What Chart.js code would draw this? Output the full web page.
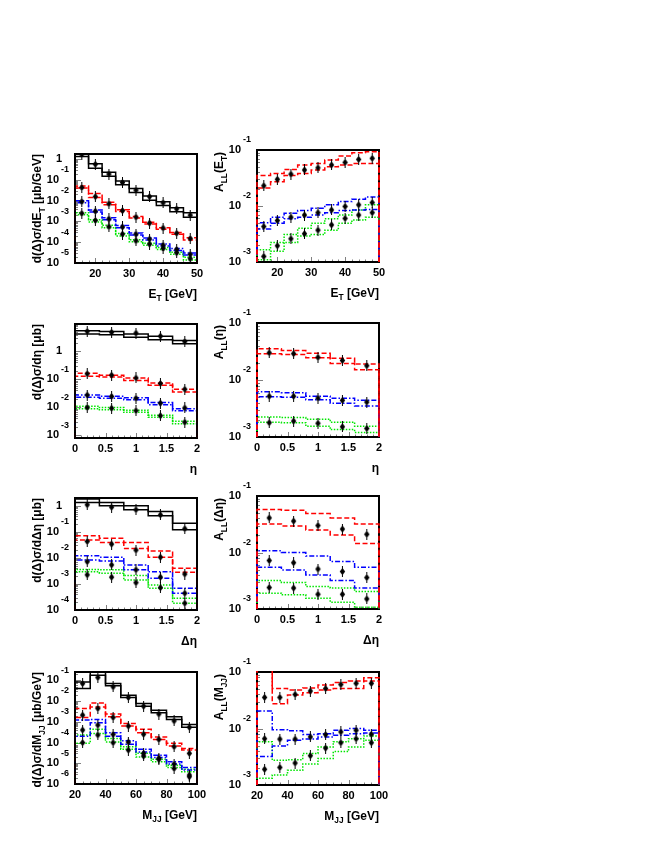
<!DOCTYPE html>
<html>
<head>
<meta charset="utf-8">
<script src="https://cdn.jsdelivr.net/npm/chart.js@4.4.1/dist/chart.umd.min.js"></script>
<style>
  html, body { margin: 0; padding: 0; background: #fff; }
  body { width: 654px; height: 846px; position: relative; overflow: hidden; }
  canvas { position: absolute; }
</style>
</head>
<body>
<script>
// bins
const etEdges = [14, 18, 22, 26, 30, 34, 38, 42, 46, 50];
const etMid = [16, 20, 24, 28, 32, 36, 40, 44, 48];
const etaEdges = [0, 0.4, 0.8, 1.2, 1.6, 2.0];
const etaMid = [0.2, 0.6, 1.0, 1.4, 1.8];
const mjjEdges = [20, 30, 40, 50, 60, 70, 80, 90, 100];
const mjjMid = [25, 35, 45, 55, 65, 75, 85, 95];

// d(D)sigma/dE_T
const xsEtBlackUp = [1.7, 0.59, 0.23, 0.089, 0.038, 0.0166, 0.0089, 0.0045, 0.0026];
const xsEtBlackLo = [1.32, 0.36, 0.148, 0.058, 0.0245, 0.0105, 0.0059, 0.0029, 0.0016];
const xsEtBlackPt = [1.66, 0.56, 0.19, 0.074, 0.032, 0.0155, 0.0079, 0.0040, 0.0020];
const xsEtRedUp = [5.0e-2, 2.2e-2, 8.3e-3, 3.6e-3, 1.74e-3, 9.1e-4, 5.0e-4, 2.95e-4, 1.66e-4];
const xsEtRedLo = [4.0e-2, 1.41e-2, 6.3e-3, 3.0e-3, 1.45e-3, 7.6e-4, 4.2e-4, 2.4e-4, 1.26e-4];
const xsEtRedPt = [4.3e-2, 1.55e-2, 7.1e-3, 3.3e-3, 1.6e-3, 8.3e-4, 4.8e-4, 2.7e-4, 1.5e-4];
const xsEtBlueUp = [1.0e-2, 3.55e-3, 1.51e-3, 6.3e-4, 2.8e-4, 1.58e-4, 8.3e-5, 5.0e-5, 3.0e-5];
const xsEtBlueLo = [7.9e-3, 2.8e-3, 1.2e-3, 5.0e-4, 2.24e-4, 1.26e-4, 6.6e-5, 4.0e-5, 2.4e-5];
const xsEtBluePt = [8.9e-3, 3.1e-3, 1.32e-3, 5.4e-4, 2.45e-4, 1.41e-4, 7.2e-5, 4.5e-5, 2.6e-5];
const xsEtGreenUp = [2.6e-3, 1.2e-3, 6.6e-4, 2.6e-4, 1.32e-4, 8.9e-5, 5.5e-5, 3.3e-5, 1.9e-5];
const xsEtGreenLo = [2.1e-3, 9.5e-4, 5.0e-4, 2.0e-4, 1.05e-4, 7.1e-5, 4.4e-5, 2.6e-5, 1.41e-5];
const xsEtGreenPt = [2.45e-3, 1.12e-3, 5.6e-4, 2.45e-4, 1.17e-4, 8.1e-5, 5.0e-5, 3.1e-5, 1.62e-5];

// A_LL(E_T)
const allEtRedUp = [3.5e-2, 3.8e-2, 4.5e-2, 5.4e-2, 5.75e-2, 6.6e-2, 7.8e-2, 8.9e-2, 9.3e-2];
const allEtRedLo = [2.1e-2, 2.7e-2, 3.5e-2, 3.8e-2, 4.4e-2, 5.0e-2, 5.4e-2, 5.75e-2, 5.75e-2];
const allEtRedPt = [2.3e-2, 3.0e-2, 3.7e-2, 4.4e-2, 4.8e-2, 5.4e-2, 6.0e-2, 6.8e-2, 7.1e-2];
const allEtBlueUp = [5.0e-3, 6.3e-3, 7.4e-3, 8.3e-3, 9.1e-3, 1.05e-2, 1.2e-2, 1.32e-2, 1.45e-2];
const allEtBlueLo = [3.9e-3, 4.9e-3, 5.9e-3, 6.3e-3, 6.9e-3, 7.6e-3, 8.3e-3, 8.5e-3, 8.7e-3];
const allEtBluePt = [4.3e-3, 5.5e-3, 6.3e-3, 6.9e-3, 7.6e-3, 8.5e-3, 9.8e-3, 1.05e-2, 1.15e-2];
const allEtGreenUp = [1.66e-3, 2.24e-3, 3.1e-3, 4.0e-3, 4.9e-3, 5.9e-3, 6.9e-3, 8.5e-3, 1.05e-2];
const allEtGreenLo = [1.1e-3, 1.55e-3, 2.24e-3, 2.9e-3, 3.1e-3, 3.7e-3, 4.9e-3, 5.6e-3, 6.3e-3];
const allEtGreenPt = [1.26e-3, 1.95e-3, 2.6e-3, 3.2e-3, 3.7e-3, 4.6e-3, 6.0e-3, 6.9e-3, 7.6e-3];

// d(D)sigma/deta
const xsEtaBlackUp = [5.5, 5.1, 4.2, 3.5, 2.45];
const xsEtaBlackLo = [4.2, 3.9, 3.2, 2.6, 1.86];
const xsEtaBlackPt = [5.2, 4.8, 4.5, 3.5, 2.24];
const xsEtaRedUp = [0.166, 0.141, 0.112, 7.4e-2, 4.4e-2];
const xsEtaRedLo = [0.129, 0.120, 9.1e-2, 6.2e-2, 3.5e-2];
const xsEtaRedPt = [0.158, 0.141, 0.112, 7.1e-2, 4.4e-2];
const xsEtaBlueUp = [2.75e-2, 2.5e-2, 2.2e-2, 1.48e-2, 8.9e-3];
const xsEtaBlueLo = [2.3e-2, 2.1e-2, 1.86e-2, 1.23e-2, 7.6e-3];
const xsEtaBluePt = [2.75e-2, 2.45e-2, 2.1e-2, 1.41e-2, 9.5e-3];
const xsEtaGreenUp = [1.1e-2, 9.8e-3, 7.9e-3, 5.2e-3, 3.2e-3];
const xsEtaGreenLo = [8.9e-3, 8.1e-3, 6.6e-3, 4.4e-3, 2.6e-3];
const xsEtaGreenPt = [9.8e-3, 9.3e-3, 7.6e-3, 5.0e-3, 2.95e-3];

// A_LL(eta)
const allEtaRedUp = [3.55e-2, 3.3e-2, 2.95e-2, 2.4e-2, 1.9e-2];
const allEtaRedLo = [2.9e-2, 2.8e-2, 2.45e-2, 1.95e-2, 1.51e-2];
const allEtaRedPt = [3.0e-2, 2.9e-2, 2.5e-2, 2.2e-2, 1.78e-2];
const allEtaBlueUp = [6.2e-3, 6.0e-3, 5.2e-3, 4.8e-3, 4.4e-3];
const allEtaBlueLo = [5.1e-3, 5.0e-3, 4.5e-3, 3.9e-3, 3.5e-3];
const allEtaBluePt = [5.2e-3, 5.2e-3, 4.8e-3, 4.4e-3, 4.1e-3];
const allEtaGreenUp = [2.24e-3, 2.2e-3, 2.05e-3, 1.82e-3, 1.55e-3];
const allEtaGreenLo = [1.82e-3, 1.78e-3, 1.55e-3, 1.35e-3, 1.2e-3];
const allEtaGreenPt = [1.78e-3, 1.9e-3, 1.74e-3, 1.51e-3, 1.41e-3];

// d(D)sigma/dDeta
const xsDetaBlackUp = [1.82, 1.35, 1.0, 0.60, 0.214];
const xsDetaBlackLo = [1.35, 1.0, 0.71, 0.42, 0.12];
const xsDetaBlackPt = [1.1, 0.89, 0.71, 0.45, 0.132];
const xsDetaRedUp = [7.1e-2, 5.75e-2, 3.9e-2, 1.86e-2, 4.0e-3];
const xsDetaRedLo = [4.9e-2, 3.9e-2, 2.3e-2, 1.07e-2, 2.8e-3];
const xsDetaRedPt = [4.3e-2, 3.4e-2, 2.0e-2, 1.07e-2, 2.4e-3];
const xsDetaBlueUp = [1.2e-2, 1.07e-2, 5.4e-3, 2.95e-3, 6.8e-4];
const xsDetaBlueLo = [8.3e-3, 7.6e-3, 3.5e-3, 1.66e-3, 4.4e-4];
const xsDetaBluePt = [7.2e-3, 5.4e-3, 3.5e-3, 1.82e-3, 4.4e-4];
const xsDetaGreenUp = [3.6e-3, 3.5e-3, 2.1e-3, 9.1e-4, 2.8e-4];
const xsDetaGreenLo = [2.95e-3, 2.6e-3, 1.41e-3, 6.8e-4, 1.82e-4];
const xsDetaGreenPt = [2.24e-3, 1.82e-3, 1.12e-3, 7.2e-4, 1.82e-4];

// A_LL(Deta)
const allDetaRedUp = [5.75e-2, 5.6e-2, 4.9e-2, 4.1e-2, 3.2e-2];
const allDetaRedLo = [3.2e-2, 2.95e-2, 2.5e-2, 2.05e-2, 1.45e-2];
const allDetaRedPt = [4.1e-2, 3.6e-2, 3.0e-2, 2.6e-2, 2.1e-2];
const allDetaBlueUp = [1.07e-2, 1.0e-2, 8.7e-3, 6.9e-3, 5.5e-3];
const allDetaBlueLo = [5.5e-3, 4.9e-3, 4.0e-3, 3.2e-3, 2.35e-3];
const allDetaBluePt = [7.2e-3, 6.6e-3, 5.1e-3, 4.6e-3, 3.6e-3];
const allDetaGreenUp = [3.2e-3, 2.95e-3, 2.5e-3, 2.35e-3, 2.05e-3];
const allDetaGreenLo = [1.9e-3, 1.78e-3, 1.55e-3, 1.32e-3, 1.07e-3];
const allDetaGreenPt = [2.4e-3, 2.35e-3, 1.82e-3, 1.82e-3, 1.51e-3];

// d(D)sigma/dM_JJ
const xsMjjBlackUp = [8.3e-2, 0.24, 6.9e-2, 1.9e-2, 7.6e-3, 3.6e-3, 1.74e-3, 7.4e-4];
const xsMjjBlackLo = [4.0e-2, 0.174, 5.4e-2, 1.48e-2, 5.6e-3, 2.7e-3, 1.29e-3, 5.4e-4];
const xsMjjBlackPt = [6.9e-2, 0.135, 4.8e-2, 1.48e-2, 5.6e-3, 2.35e-3, 1.1e-3, 5.4e-4];
const xsMjjRedUp = [4.4e-3, 8.1e-3, 2.35e-3, 8.3e-4, 4.3e-4, 1.86e-4, 9.1e-5, 5.2e-5];
const xsMjjRedLo = [1.62e-3, 5.2e-3, 1.74e-3, 6.2e-4, 2.95e-4, 1.41e-4, 6.8e-5, 4.3e-5];
const xsMjjRedPt = [2.1e-3, 4.4e-3, 1.62e-3, 6.2e-4, 2.5e-4, 1.41e-4, 6.3e-5, 3.0e-5];
const xsMjjBlueUp = [1.2e-3, 1.29e-3, 2.95e-4, 1.2e-4, 4.7e-5, 2.45e-5, 1.17e-5, 6.3e-6];
const xsMjjBlueLo = [2.0e-4, 8.9e-4, 2.0e-4, 8.3e-5, 3.5e-5, 1.9e-5, 9.1e-6, 4.7e-6];
const xsMjjBluePt = [4.0e-4, 6.9e-4, 2.45e-4, 1.05e-4, 3.0e-5, 1.74e-5, 9.1e-6, 2.7e-6];
const xsMjjGreenUp = [2.3e-4, 4.3e-4, 1.58e-4, 6.2e-5, 3.0e-5, 1.55e-5, 8.1e-6, 5.1e-6];
const xsMjjGreenLo = [9.1e-5, 2.75e-4, 1.07e-4, 4.7e-5, 2.0e-5, 1.17e-5, 6.3e-6, 3.9e-6];
const xsMjjGreenPt = [9.8e-5, 2.3e-4, 9.8e-5, 4.3e-5, 2.24e-5, 1.55e-5, 5.6e-6, 2.24e-6];

// A_LL(M_JJ)
const allMjjRedUp = [0.3, 5.1e-2, 4.8e-2, 5.2e-2, 5.9e-2, 6.5e-2, 6.9e-2, 7.9e-2];
const allMjjRedLo = [0.15, 2.75e-2, 3.9e-2, 4.3e-2, 4.8e-2, 5.1e-2, 5.1e-2, 6.9e-2];
const allMjjRedPt = [3.55e-2, 3.55e-2, 4.0e-2, 4.6e-2, 5.1e-2, 6.0e-2, 6.3e-2, 6.3e-2];
const allMjjBlueUp = [2.05e-2, 9.5e-3, 9.1e-3, 7.8e-3, 8.1e-3, 9.3e-3, 1.0e-2, 9.3e-3];
const allMjjBlueLo = [3.2e-3, 4.9e-3, 6.2e-3, 6.5e-3, 7.1e-3, 7.6e-3, 8.1e-3, 8.3e-3];
const allMjjBluePt = [6.6e-3, 6.5e-3, 6.5e-3, 7.1e-3, 7.8e-3, 8.7e-3, 9.3e-3, 7.9e-3];
const allMjjGreenUp = [5.8e-3, 2.75e-3, 2.8e-3, 3.6e-3, 4.7e-3, 5.8e-3, 6.6e-3, 7.4e-3];
const allMjjGreenLo = [1.32e-3, 1.51e-3, 1.82e-3, 2.35e-3, 2.95e-3, 3.9e-3, 4.7e-3, 6.2e-3];
const allMjjGreenPt = [1.9e-3, 2.05e-3, 2.45e-3, 3.3e-3, 4.5e-3, 5.6e-3, 6.6e-3, 5.6e-3];

// axis ticks and titles
const etTicks = [20, 30, 40, 50];
const etaTicks = [0, 0.5, 1, 1.5, 2];
const mjjTicks = [20, 40, 60, 80, 100];
const titleEt = [['E', 0], ['T', 1], [' [GeV]', 0]];
const titleMjj = [['M', 0], ['JJ', 1], [' [GeV]', 0]];

const FONT = '"Liberation Sans", Arial, Helvetica, sans-serif';
const STYLE = {
  black: { color: '#000000', dash: [] },
  red: { color: '#ff0000', dash: [5, 2.5] },
  blue: { color: '#0000ff', dash: [5, 2, 1.5, 2] },
  green: { color: '#00e600', dash: [1.5, 1.5] }
};

const panels = [
  {
    box: [0, 128, 218, 177], frame: [75, 154, 197, 263], xr: [14, 50], yr: [1e-5, 1.75],
    xMajor: etTicks, xStep: 2, edges: etEdges, mids: etMid, titleX: 37, titleShift: 0,
    yTitle: [['d(Δ)σ/dE', 0], ['T', 1], [' [μb/GeV]', 0]], xTitle: titleEt,
    series: [['black', xsEtBlackUp, xsEtBlackLo, xsEtBlackPt], ['red', xsEtRedUp, xsEtRedLo, xsEtRedPt],
      ['blue', xsEtBlueUp, xsEtBlueLo, xsEtBluePt], ['green', xsEtGreenUp, xsEtGreenLo, xsEtGreenPt]]
  },
  {
    box: [200, 128, 200, 177], frame: [257, 150, 379, 262], xr: [14, 50], yr: [1e-3, 1e-1],
    xMajor: etTicks, xStep: 2, edges: etEdges, mids: etMid, titleX: 219, titleShift: 2,
    yTitle: [['A', 0], ['LL', 1], ['(E', 0], ['T', 1], [')', 0]], xTitle: titleEt,
    series: [['red', allEtRedUp, allEtRedLo, allEtRedPt], ['blue', allEtBlueUp, allEtBlueLo, allEtBluePt],
      ['green', allEtGreenUp, allEtGreenLo, allEtGreenPt]]
  },
  {
    box: [0, 305, 218, 170], frame: [75, 324, 197, 438], xr: [0, 2], yr: [8e-4, 9.5],
    xMajor: etaTicks, xStep: 0.1, edges: etaEdges, mids: etaMid, titleX: 37, titleShift: 0,
    yTitle: [['d(Δ)σ/dη [μb]', 0]], xTitle: [['η', 0]],
    series: [['black', xsEtaBlackUp, xsEtaBlackLo, xsEtaBlackPt], ['red', xsEtaRedUp, xsEtaRedLo, xsEtaRedPt],
      ['blue', xsEtaBlueUp, xsEtaBlueLo, xsEtaBluePt], ['green', xsEtaGreenUp, xsEtaGreenLo, xsEtaGreenPt]]
  },
  {
    box: [200, 305, 200, 170], frame: [257, 323, 379, 437], xr: [0, 2], yr: [1e-3, 1e-1],
    xMajor: etaTicks, xStep: 0.1, edges: etaEdges, mids: etaMid, titleX: 219, titleShift: 2,
    yTitle: [['A', 0], ['LL', 1], ['(η)', 0]], xTitle: [['η', 0]],
    series: [['red', allEtaRedUp, allEtaRedLo, allEtaRedPt], ['blue', allEtaBlueUp, allEtaBlueLo, allEtaBluePt],
      ['green', allEtaGreenUp, allEtaGreenLo, allEtaGreenPt]]
  },
  {
    box: [0, 475, 218, 175], frame: [75, 498, 197, 610], xr: [0, 2], yr: [1e-4, 2],
    xMajor: etaTicks, xStep: 0.1, edges: etaEdges, mids: etaMid, titleX: 37, titleShift: 0,
    yTitle: [['d(Δ)σ/dΔη [μb]', 0]], xTitle: [['Δη', 0]],
    series: [['black', xsDetaBlackUp, xsDetaBlackLo, xsDetaBlackPt], ['red', xsDetaRedUp, xsDetaRedLo, xsDetaRedPt],
      ['blue', xsDetaBlueUp, xsDetaBlueLo, xsDetaBluePt], ['green', xsDetaGreenUp, xsDetaGreenLo, xsDetaGreenPt]]
  },
  {
    box: [200, 475, 200, 175], frame: [257, 496, 379, 609], xr: [0, 2], yr: [1e-3, 1e-1],
    xMajor: etaTicks, xStep: 0.1, edges: etaEdges, mids: etaMid, titleX: 219, titleShift: 2,
    yTitle: [['A', 0], ['LL', 1], ['(Δη)', 0]], xTitle: [['Δη', 0]],
    series: [['red', allDetaRedUp, allDetaRedLo, allDetaRedPt], ['blue', allDetaBlueUp, allDetaBlueLo, allDetaBluePt],
      ['green', allDetaGreenUp, allDetaGreenLo, allDetaGreenPt]]
  },
  {
    box: [0, 650, 218, 196], frame: [75, 672, 197, 784], xr: [20, 100], yr: [1e-6, 0.25],
    xMajor: mjjTicks, xStep: 5, edges: mjjEdges, mids: mjjMid, titleX: 37, titleShift: 0,
    yTitle: [['d(Δ)σ/dM', 0], ['JJ', 1], [' [μb/GeV]', 0]], xTitle: titleMjj,
    series: [['black', xsMjjBlackUp, xsMjjBlackLo, xsMjjBlackPt], ['red', xsMjjRedUp, xsMjjRedLo, xsMjjRedPt],
      ['blue', xsMjjBlueUp, xsMjjBlueLo, xsMjjBluePt], ['green', xsMjjGreenUp, xsMjjGreenLo, xsMjjGreenPt]]
  },
  {
    box: [200, 650, 200, 196], frame: [257, 672, 379, 785], xr: [20, 100], yr: [1e-3, 1e-1],
    xMajor: mjjTicks, xStep: 5, edges: mjjEdges, mids: mjjMid, titleX: 219, titleShift: 2,
    yTitle: [['A', 0], ['LL', 1], ['(M', 0], ['JJ', 1], [')', 0]], xTitle: titleMjj,
    series: [['red', allMjjRedUp, allMjjRedLo, allMjjRedPt], ['blue', allMjjBlueUp, allMjjBlueLo, allMjjBluePt],
      ['green', allMjjGreenUp, allMjjGreenLo, allMjjGreenPt]]
  }
];

// diamond marker with a small error bar
function makeMarker() {
  const c = document.createElement('canvas');
  c.width = 7; c.height = 11;
  const g = c.getContext('2d');
  g.fillStyle = '#000';
  g.fillRect(3, 0, 1, 11);
  g.beginPath();
  g.moveTo(3.5, 1.8); g.lineTo(6.2, 5.5); g.lineTo(3.5, 9.2); g.lineTo(0.8, 5.5);
  g.closePath();
  g.fill();
  return c;
}
const marker = makeMarker();

// histogram outline: up from the axis floor, across the bins, back down
function steps(edges, vals, floor) {
  const pts = [{ x: edges[0], y: floor }];
  vals.forEach((v, i) => pts.push({ x: edges[i], y: v }));
  pts.push({ x: edges[edges.length - 1], y: vals[vals.length - 1] });
  pts.push({ x: edges[edges.length - 1], y: floor });
  return pts;
}

function richWidth(ctx, parts, size) {
  let w = 0;
  parts.forEach(([t, sub]) => {
    ctx.font = 'bold ' + (sub ? size * 0.7 : size) + 'px ' + FONT;
    w += ctx.measureText(t).width;
  });
  return w;
}

function drawRich(ctx, parts, x, y, size) {
  ctx.textAlign = 'left';
  ctx.textBaseline = 'alphabetic';
  parts.forEach(([t, sub]) => {
    ctx.font = 'bold ' + (sub ? size * 0.7 : size) + 'px ' + FONT;
    ctx.fillText(t, x, sub ? y + size * 0.28 : y);
    x += ctx.measureText(t).width;
  });
}

// ROOT-like frame, inner ticks and labels
function rootAxes(p) {
  return {
    id: 'rootAxes',
    beforeDatasetsDraw(chart) {
      const ctx = chart.ctx, a = chart.chartArea;
      const xs = chart.scales.x, ys = chart.scales.y;
      ctx.save();
      ctx.strokeStyle = '#808080';
      ctx.lineWidth = 1;
      ctx.beginPath();
      for (let v = p.xr[0]; v <= p.xr[1] + 1e-9; v += p.xStep) {
        const val = Math.round(v * 1000) / 1000;
        const big = p.xMajor.some(m => Math.abs(m - val) < 1e-6);
        const px = Math.round(xs.getPixelForValue(val)) + 0.5;
        ctx.moveTo(px, a.bottom);
        ctx.lineTo(px, a.bottom - (big ? 5 : 2.5));
      }
      const k0 = Math.floor(Math.log10(p.yr[0]) + 1e-9), k1 = Math.ceil(Math.log10(p.yr[1]) - 1e-9);
      for (let k = k0; k <= k1; k++) {
        for (let m = 1; m <= 9; m++) {
          const v = m * Math.pow(10, k);
          if (v < p.yr[0] * 0.999 || v > p.yr[1] * 1.001) continue;
          const py = Math.round(ys.getPixelForValue(v)) + 0.5;
          ctx.moveTo(a.left, py);
          ctx.lineTo(a.left + (m === 1 ? 6 : 3), py);
        }
      }
      ctx.stroke();
      ctx.strokeStyle = '#000';
      ctx.lineWidth = 2;
      ctx.strokeRect(a.left, a.top, a.right - a.left, a.bottom - a.top);
      ctx.restore();
    },
    afterDraw(chart) {
      const ctx = chart.ctx, a = chart.chartArea;
      const xs = chart.scales.x, ys = chart.scales.y;
      ctx.save();
      ctx.fillStyle = '#000';

      // x labels
      ctx.font = 'bold 11px ' + FONT;
      ctx.textAlign = 'center';
      ctx.textBaseline = 'middle';
      p.xMajor.forEach(v => ctx.fillText(String(v), xs.getPixelForValue(v), a.bottom + 11));

      // y labels (powers of ten)
      const d0 = Math.ceil(Math.log10(p.yr[0]) - 1e-9), d1 = Math.floor(Math.log10(p.yr[1]) + 1e-9);
      for (let k = d0; k <= d1; k++) {
        const py = ys.getPixelForValue(Math.pow(10, k));
        ctx.font = 'bold 11px ' + FONT;
        ctx.textAlign = 'right';
        ctx.textBaseline = 'middle';
        if (k === 0) {
          ctx.fillText('1', a.left - 13, py);
          continue;
        }
        ctx.fillText('10', a.left - 16, py);
        if (k !== 1) {
          ctx.font = 'bold 9px ' + FONT;
          ctx.textAlign = 'left';
          ctx.fillText(String(k), a.left - 14, py - 10);
        }
      }

      // x title, right aligned at axis end
      const wx = richWidth(ctx, p.xTitle, 12);
      drawRich(ctx, p.xTitle, a.right - wx, a.bottom + 35, 12);

      // y title, rotated, ending near frame top
      const wy = richWidth(ctx, p.yTitle, 12);
      ctx.translate(p.titleX - p.box[0], a.top + p.titleShift);
      ctx.rotate(-Math.PI / 2);
      drawRich(ctx, p.yTitle, -wy, 4.3, 12);

      ctx.restore();
    }
  };
}

panels.forEach(p => {
  const cv = document.createElement('canvas');
  cv.width = p.box[2];
  cv.height = p.box[3];
  cv.style.left = p.box[0] + 'px';
  cv.style.top = p.box[1] + 'px';
  document.body.appendChild(cv);

  const datasets = [];
  p.series.forEach(([name, up, lo, pt]) => {
    const st = STYLE[name];
    [up, lo].forEach(vals => datasets.push({
      data: steps(p.edges, vals, p.yr[0]),
      borderColor: st.color,
      borderWidth: 1.5,
      borderDash: st.dash,
      stepped: true,
      pointRadius: 0,
      fill: false,
      clip: 1,
      order: 1
    }));
    datasets.push({
      data: p.mids.map((x, i) => ({ x: x, y: pt[i] })),
      showLine: false,
      pointStyle: marker,
      pointRadius: 4,
      order: 0
    });
  });

  new Chart(cv, {
    type: 'line',
    data: { datasets: datasets },
    options: {
      responsive: false,
      animation: false,
      events: [],
      layout: {
        padding: {
          left: p.frame[0] - p.box[0],
          top: p.frame[1] - p.box[1],
          right: p.box[0] + p.box[2] - p.frame[2],
          bottom: p.box[1] + p.box[3] - p.frame[3]
        }
      },
      plugins: { legend: { display: false }, tooltip: { enabled: false } },
      scales: {
        x: { type: 'linear', min: p.xr[0], max: p.xr[1], display: false },
        y: { type: 'logarithmic', min: p.yr[0], max: p.yr[1], display: false }
      }
    },
    plugins: [rootAxes(p)]
  });
});
</script>
</body>
</html>
